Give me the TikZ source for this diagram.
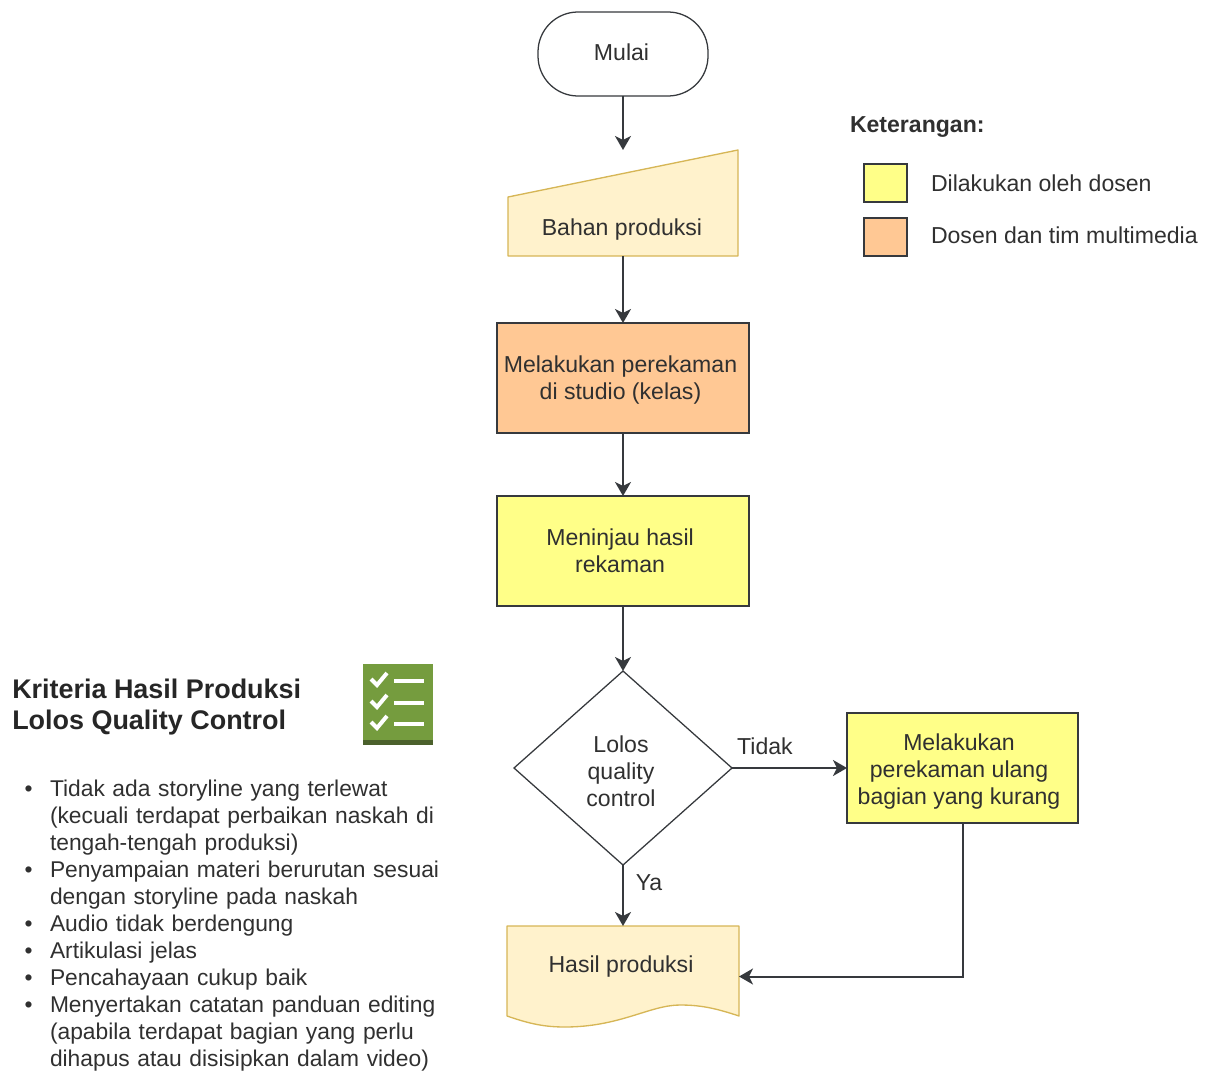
\documentclass[tikz,border=0pt]{standalone}
\usepackage{fontspec}
\setmainfont{Liberation Sans}
\usetikzlibrary{arrows.meta,shapes.geometric}
\definecolor{inkgray}{HTML}{303030}
\definecolor{linegray}{HTML}{36393D}
\definecolor{creamfill}{HTML}{FFF2CC}
\definecolor{creamline}{HTML}{D6B656}
\definecolor{orangefill}{HTML}{FFC894}
\definecolor{yellowfill}{HTML}{FFFF88}
\definecolor{icongreen}{HTML}{759C3E}
\definecolor{icondark}{HTML}{4B612C}
\newcommand{\flowfont}{\fontsize{17.3}{20.25}\selectfont}
\tikzset{
  size/.style 2 args={minimum width=#1*0.75pt,minimum height=#2*0.75pt},
  base/.style={inner sep=0pt,outer sep=0pt,text=inkgray,font=\flowfont,align=center},
  stepbox/.style={base,draw=linegray,line width=0.95pt},
  orangebox/.style={stepbox,fill=orangefill,size={252}{110}},
  yellowbox/.style={stepbox,fill=yellowfill},
  creamshape/.style={draw=creamline,fill=creamfill,line width=1pt,line join=round},
  legendbox/.style={stepbox,size={43}{38}},
  legendtext/.style={base,anchor=west},
  edgetext/.style={base},
  titletext/.style={inner sep=0pt,anchor=north west,align=left,text=black!85,
    font=\fontsize{20.2}{23.25}\selectfont\bfseries},
  flow/.style={-{Stealth[length=10.5pt,width=12pt,inset=3pt]},line width=1.5pt,draw=linegray}
}
\begin{document}
\begin{tikzpicture}[x=0.75pt,y=-0.75pt]
      \useasboundingbox (0,0) rectangle (1209,1070);
      \node[stepbox,fill=white,rounded corners=30pt,size={170}{84},
        label={[base,name=mulaitext,xshift=-1.1pt,yshift=1.5pt]center:Mulai}] (mulai) at (623,54) {};
      \node[base,size={230}{106}] (bahan) at (623,203) {};
      \draw[creamshape] (bahan.south west) -- (508,197) -- (bahan.north east) -- (bahan.south east) -- cycle;
      \node[base] (bahantext) at (622,230) {Bahan produksi};
      \node[orangebox,
        label={[base,name=rekamtext,xshift=-1.9pt,yshift=-1.5pt]center:Melakukan perekaman\\di studio (kelas)}] (rekam) at (623,378) {};
      \node[yellowbox,size={252}{110},
        label={[base,name=tinjautext,xshift=-2.2pt]center:Meninjau hasil\\rekaman}] (tinjau) at (623,551) {};
      \node[stepbox,diamond,aspect=1.12,size={218}{194},fill=white,
        label={[base,name=lolostext,xshift=-1.5pt,yshift=-2.2pt]center:Lolos\\quality\\control}] (lolos) at (623,768) {};
      \node[yellowbox,size={231}{110},
        label={[base,name=ulangtext,xshift=-2.6pt,yshift=-3pt]center:Melakukan\\perekaman ulang\\bagian yang kurang}] (ulang) at (962.5,768) {};
      \node[base,size={232}{101}] (hasil) at (623,976.5) {};
      \draw[creamshape] (hasil.north west) -- (hasil.north east) -- (739,1016)
        .. controls (715,1008) and (700,1005) .. (680,1005)
        .. controls (650,1005) and (620,1027) .. (565,1027)
        .. controls (545,1027) and (530,1024) .. (507,1016) -- cycle;
      \node[base] (hasiltext) at (621,967) {Hasil produksi};
      \node[edgetext] (tidak) at (765,746) {Tidak};
      \node[edgetext] (ya) at (649,883) {Ya};
      \begin{scope}[flow]
        \draw (mulai) to (bahan);
        \draw (bahan) to (rekam);
        \draw (rekam) to (tinjau);
        \draw (tinjau) to (lolos);
        \draw (lolos) to (ulang);
        \draw (lolos) to (hasil);
        \draw (ulang.south) |- (hasil.east);
      \end{scope}
      \node[base,anchor=west,font=\flowfont\bfseries] (keterangan) at (850,127) {Keterangan:};
      \node[legendbox,fill=yellowfill] (dosenbox) at (885.5,183) {};
      \node[legendbox,fill=orangefill] (timbox) at (885.5,237) {};
      \node[legendtext] (dosentext) at (931,183) {Dilakukan oleh dosen};
      \node[legendtext] (timtext) at (931,235) {Dosen dan tim multimedia};
      \node[titletext] (kriteria) at (12,679) {Kriteria Hasil Produksi\\Lolos Quality Control};
      \fill[icongreen] (363,664) rectangle (433,740);
      \fill[icondark] (363,740) rectangle (433,745);
      \draw[white,line width=3pt] (371,679) -- (377,685) -- (387,673);
      \draw[white,line width=3pt] (371,701) -- (377,707) -- (387,695);
      \draw[white,line width=3pt] (371,722) -- (377,728) -- (387,716);
      \draw[white,line width=3.6pt] (394,681) -- (424,681);
      \draw[white,line width=3.6pt] (394,703) -- (424,703);
      \draw[white,line width=3.6pt] (394,724) -- (424,724);
      \node[base,anchor=north west,align=left,text width=470*0.75pt,
        font=\fontsize{17.1}{20.25}\selectfont] (daftar) at (12,759) {%
        \setlength{\leftmargini}{28.5pt}\setlength{\labelsep}{13pt}%
        \setlength{\topsep}{0pt}\setlength{\partopsep}{0pt}%
        \begin{itemize}\setlength{\itemsep}{0pt}\setlength{\parsep}{0pt}\setlength{\parskip}{0pt}%
          \item Tidak ada storyline yang terlewat\\(kecuali terdapat perbaikan naskah di\\tengah-tengah produksi)
          \item Penyampaian materi berurutan sesuai\\dengan storyline pada naskah
          \item Audio tidak berdengung
          \item Artikulasi jelas
          \item Pencahayaan cukup baik
          \item Menyertakan catatan panduan editing\\(apabila terdapat bagian yang perlu\\dihapus atau disisipkan dalam video)
        \end{itemize}};
    \end{tikzpicture}
\end{document}
